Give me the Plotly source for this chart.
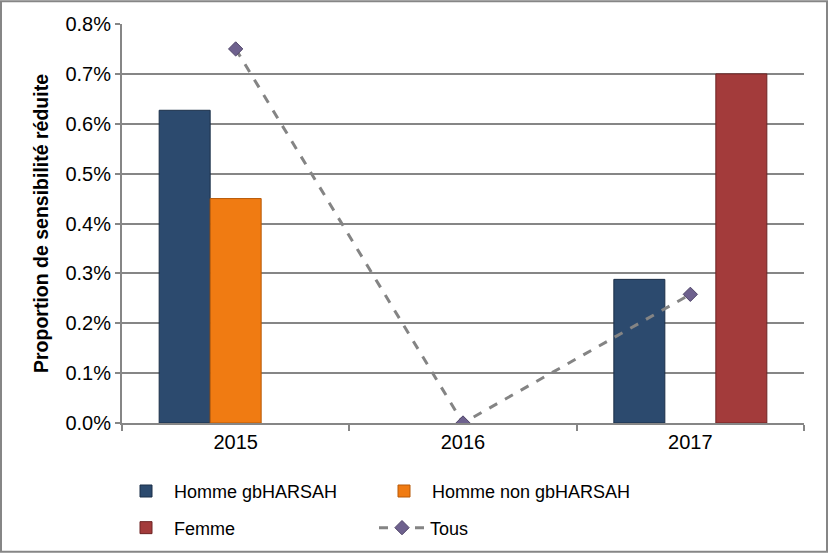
import plotly.graph_objects as go

years = ["2015", "2016", "2017"]
homme_gb = [0.00627, None, 0.00288]
homme_non_gb = [0.00450, None, None]
femme = [None, None, 0.00700]
tous = [0.00750, 0.00000, 0.00258]

W, H = 828, 558
L, R, T, B = 122, 24, 24, 131
pw, ph = W - L - R, H - T - B

def px(x):
    return (x - L) / pw

def py(y):
    return (H - B - y) / ph

grey = "#868686"
font = "Liberation Sans, Arial, sans-serif"

fig = go.Figure()
fig.add_trace(go.Bar(x=years, y=homme_gb, name="Homme gbHARSAH",
                     marker=dict(color="#2C4A6E", line=dict(color="#1B2F48", width=1)),
                     legend="legend"))
fig.add_trace(go.Bar(x=years, y=homme_non_gb, name="Homme non gbHARSAH",
                     marker=dict(color="#F07B12", line=dict(color="#B85A08", width=1)),
                     legend="legend"))
fig.add_trace(go.Bar(x=years, y=femme, name="Femme",
                     marker=dict(color="#A33B3B", line=dict(color="#6E2424", width=1)),
                     legend="legend2"))
fig.add_trace(go.Scatter(x=years, y=tous, name="Tous", mode="lines+markers",
                         line=dict(color="#848484", width=3, dash="dash"),
                         marker=dict(symbol="diamond", size=11, color="#6E618E",
                                     line=dict(color="#4F4468", width=1)),
                         legend="legend3"))

legend_common = dict(orientation="h", xanchor="left", yanchor="middle",
                     font=dict(family=font, size=18, color="#000000"),
                     bgcolor="rgba(0,0,0,0)", itemwidth=46)

fig.update_layout(
    width=W, height=H, autosize=False,
    margin=dict(l=L, r=R, t=T, b=B),
    paper_bgcolor="white", plot_bgcolor="white",
    barmode="group", bargap=0.327, bargroupgap=0,
    font=dict(family=font, size=18, color="#000000"),
    legend=dict(**legend_common, x=px(118), y=py(496), entrywidth=197),
    legend2=dict(**legend_common, x=px(118), y=py(533)),
    legend3=dict(**legend_common, x=px(374), y=py(533)),
    xaxis=dict(type="category", showgrid=False, showline=True, linecolor=grey, linewidth=2,
               ticks="outside", tickson="boundaries", ticklen=6, tickcolor=grey, tickwidth=2,
               tickfont=dict(size=20)),
    yaxis=dict(range=[0, 0.008], dtick=0.001, tickformat=".1%", showgrid=True,
               gridcolor=grey, gridwidth=2, showline=True, linecolor=grey, linewidth=2,
               ticks="outside", ticklen=5, tickcolor=grey, tickwidth=2, zeroline=False,
               tickfont=dict(size=20),
               title=dict(text="<b>Proportion de sensibilité réduite</b>",
                          font=dict(size=19.5), standoff=12)),
    shapes=[dict(type="rect", xref="paper", yref="paper",
                 x0=px(1), x1=px(W - 1), y0=py(H - 1), y1=py(1),
                 line=dict(color=grey, width=2), layer="above")],
)

fig.write_html("out.html",
               config={"responsive": False, "displayModeBar": False},
               post_script="document.body.style.margin='0';")
